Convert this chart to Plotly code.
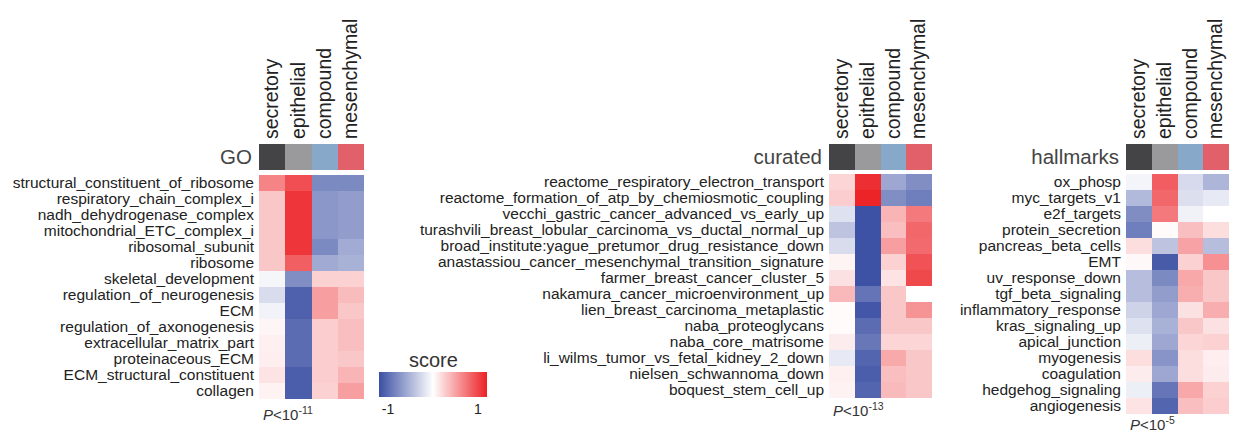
import plotly.graph_objects as go

groups = ["secretory", "epithelial", "compound", "mesenchymal"]
group_colors = ["#444447", "#9a999c", "#87a8c9", "#e2606a"]

go_terms = ["structural_constituent_of_ribosome", "respiratory_chain_complex_i",
            "nadh_dehydrogenase_complex", "mitochondrial_ETC_complex_i",
            "ribosomal_subunit", "ribosome", "skeletal_development",
            "regulation_of_neurogenesis", "ECM", "regulation_of_axonogenesis",
            "extracellular_matrix_part", "proteinaceous_ECM",
            "ECM_structural_constituent", "collagen"]
go_scores = [
    [0.66, 0.95, -0.80, -0.80],
    [0.30, 1.08, -0.71, -0.67],
    [0.30, 1.08, -0.71, -0.67],
    [0.30, 1.08, -0.71, -0.67],
    [0.30, 1.08, -0.80, -0.57],
    [0.30, 0.86, -0.58, -0.53],
    [-0.06, -0.77, 0.25, 0.25],
    [-0.24, -1.08, 0.52, 0.36],
    [-0.08, -1.08, 0.52, 0.30],
    [0.05, -1.00, 0.27, 0.35],
    [0.08, -1.00, 0.27, 0.35],
    [0.09, -1.00, 0.27, 0.30],
    [0.15, -1.10, 0.27, 0.40],
    [0.07, -1.10, 0.25, 0.52],
]

curated_terms = ["reactome_respiratory_electron_transport",
                 "reactome_formation_of_atp_by_chemiosmotic_coupling",
                 "vecchi_gastric_cancer_advanced_vs_early_up",
                 "turashvili_breast_lobular_carcinoma_vs_ductal_normal_up",
                 "broad_institute:yague_pretumor_drug_resistance_down",
                 "anastassiou_cancer_mesenchymal_transition_signature",
                 "farmer_breast_cancer_cluster_5",
                 "nakamura_cancer_microenvironment_up",
                 "lien_breast_carcinoma_metaplastic",
                 "naba_proteoglycans", "naba_core_matrisome",
                 "li_wilms_tumor_vs_fetal_kidney_2_down",
                 "nielsen_schwannoma_down", "boquest_stem_cell_up"]
curated_scores = [
    [0.22, 1.12, -0.60, -0.77],
    [0.27, 1.18, -0.77, -0.88],
    [-0.20, -1.18, 0.40, 0.72],
    [-0.40, -1.18, 0.35, 0.82],
    [-0.24, -1.18, 0.52, 0.80],
    [0.06, -1.18, 0.25, 0.93],
    [0.16, -1.18, 0.15, 0.98],
    [0.38, -0.95, 0.30, 0.00],
    [0.02, -1.15, 0.30, 0.58],
    [0.02, -1.00, 0.30, 0.30],
    [0.10, -0.93, 0.22, 0.22],
    [-0.15, -1.05, 0.46, 0.30],
    [0.08, -1.10, 0.35, 0.30],
    [0.07, -1.05, 0.37, 0.30],
]

hallmark_terms = ["ox_phosp", "myc_targets_v1", "e2f_targets", "protein_secretion",
                  "pancreas_beta_cells", "EMT", "uv_response_down",
                  "tgf_beta_signaling", "inflammatory_response", "kras_signaling_up",
                  "apical_junction", "myogenesis", "coagulation",
                  "hedgehog_signaling", "angiogenesis"]
hallmark_scores = [
    [-0.07, 0.87, -0.25, -0.50],
    [-0.47, 0.82, -0.22, -0.15],
    [-0.78, 0.72, -0.09, 0.00],
    [-0.88, 0.02, 0.35, 0.18],
    [0.18, -0.40, 0.50, -0.44],
    [0.04, -1.12, 0.25, 0.60],
    [-0.44, -0.80, 0.47, 0.30],
    [-0.44, -0.67, 0.44, 0.30],
    [-0.30, -0.60, 0.16, 0.44],
    [-0.20, -0.53, 0.30, 0.16],
    [-0.11, -0.60, 0.22, 0.25],
    [0.18, -0.73, 0.18, 0.09],
    [0.10, -0.60, 0.18, 0.10],
    [-0.11, -0.94, 0.47, 0.25],
    [0.15, -1.05, 0.35, 0.27],
]

panel_names = ["GO", "curated", "hallmarks"]
p_labels = ["<i>P</i><10<sup>-11</sup>", "<i>P</i><10<sup>-13</sup>", "<i>P</i><10<sup>-5</sup>"]
colorbar_title = "score"
colorbar_ticks = [-1, 1]
colorbar_ticktext = ["-1", "1"]

# the page body adds an 8px margin; shrink the figure to fit the window
OFF = 8
W, H = 1240 - OFF, 433 - OFF
FONT = "Liberation Sans, Arial, Helvetica, sans-serif"
TXT = "#222222"

def fx(px):
    return (px - OFF) / W

def fy(py):
    return 1 - (py - OFF) / H

# panel pixel geometry (window pixels): (x0, x1, header_y0, header_y1, main_y0, main_y1, p_label_y)
geom = [
    (259, 364, 144, 170, 175, 399, 413),
    (829, 932, 144, 170, 174, 398, 409),
    (1126, 1229, 144, 170, 174, 414, 423),
]
terms_list = [go_terms, curated_terms, hallmark_terms]
scores_list = [go_scores, curated_scores, hallmark_scores]

fig = go.Figure()
layout = dict()
annotations = []

header_scale = [[i / 3, c] for i, c in enumerate(group_colors)]
noline = dict(showgrid=False, zeroline=False, showline=False, ticks="", automargin=False)

for i, (name, terms, scores, g, pl) in enumerate(zip(panel_names, terms_list, scores_list, geom, p_labels)):
    x0, x1, hy0, hy1, my0, my1, py = g
    hx = 2 * i + 1
    mx = 2 * i + 2
    hxn = "x" if hx == 1 else f"x{hx}"
    hyn = "y" if hx == 1 else f"y{hx}"
    mxn = f"x{mx}"
    myn = f"y{mx}"
    # header strip
    fig.add_trace(go.Heatmap(
        z=[list(range(len(groups)))], x=groups, y=[name],
        colorscale=header_scale, zmin=0, zmax=len(groups) - 1, showscale=False,
        xaxis=hxn, yaxis=hyn, hoverinfo="x"))
    # main heatmap
    fig.add_trace(go.Heatmap(
        z=scores, x=groups, y=terms, coloraxis="coloraxis",
        xaxis=mxn, yaxis=myn))
    hxk = "xaxis" if hx == 1 else f"xaxis{hx}"
    hyk = "yaxis" if hx == 1 else f"yaxis{hx}"
    layout[hxk] = dict(domain=[fx(x0), fx(x1)], anchor=hyn, side="top",
                       tickangle=-90, tickmode="array", tickvals=groups, ticktext=groups,
                       ticklabelstandoff=4,
                       tickfont=dict(size=19.5, color=TXT, family=FONT), **noline)
    layout[hyk] = dict(domain=[fy(hy1), fy(hy0)], anchor=hxn,
                       tickmode="array", tickvals=[name], ticktext=[name],
                       ticklabelstandoff=6,
                       tickfont=dict(size=20.5, color="#444444", family=FONT), **noline)
    layout[f"xaxis{mx}"] = dict(domain=[fx(x0), fx(x1)], anchor=myn, showticklabels=False,
                                **noline)
    layout[f"yaxis{mx}"] = dict(domain=[fy(my1), fy(my0)], anchor=mxn, autorange="reversed",
                                tickmode="array", tickvals=terms, ticktext=terms,
                                ticklabelstandoff=4,
                                tickfont=dict(size=15.5, color=TXT, family=FONT), **noline)
    annotations.append(dict(text=pl, x=fx(x0 + 2), y=fy(py), xref="paper", yref="paper",
                            xanchor="left", yanchor="middle", showarrow=False,
                            font=dict(size=15, color="#333333", family=FONT)))

annotations.append(dict(text=colorbar_title, x=fx(433), y=fy(360), xref="paper", yref="paper",
                        xanchor="center", yanchor="middle", showarrow=False,
                        font=dict(size=20, color="#333333", family=FONT)))

fig.update_layout(
    template="none",
    width=W, height=H, margin=dict(l=0, r=0, t=0, b=0, pad=0),
    paper_bgcolor="white", plot_bgcolor="white",
    font=dict(family=FONT, color=TXT),
    annotations=annotations,
    coloraxis=dict(
        cmin=-1.2, cmax=1.2,
        colorscale=[[0, "#3b4fa3"], [0.5, "#ffffff"], [1, "#ec2024"]],
        colorbar=dict(orientation="h", x=fx(433), xanchor="center",
                      y=fy(372), yanchor="top", len=108, lenmode="pixels",
                      thickness=25, thicknessmode="pixels", outlinewidth=0,
                      tickmode="array", tickvals=colorbar_ticks, ticktext=colorbar_ticktext,
                      ticks="", ticklabelposition="outside bottom",
                      tickfont=dict(size=14, color=TXT, family=FONT),
                      xpad=0, ypad=0)),
    **layout,
)

fig.write_html("out.html")
